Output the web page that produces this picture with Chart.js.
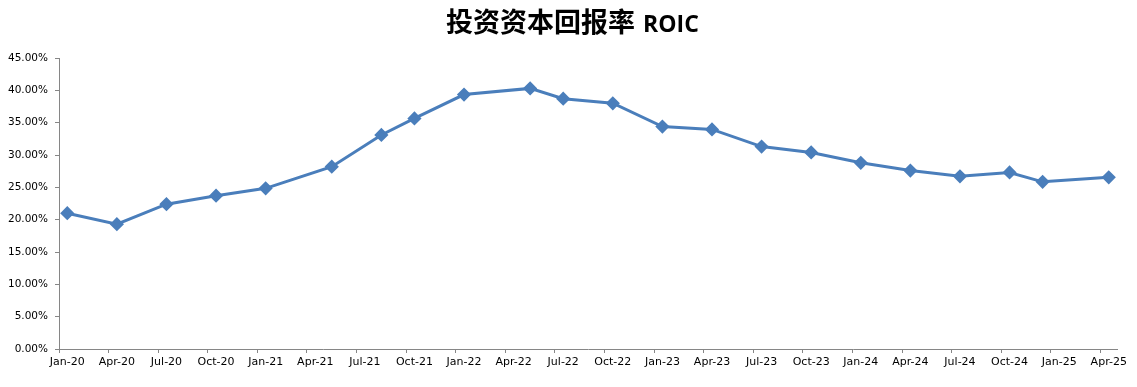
<!DOCTYPE html>
<html>
<head>
<meta charset="utf-8">
<script src="https://cdn.jsdelivr.net/npm/chart.js@4"></script>
<style>
    html, body { margin: 0; padding: 0; background: #fff; }
    #wrap { position: relative; width: 1137px; height: 387px; }
    #title {
        position: absolute; left: 0; top: 5px; width: 1137px; padding-left: 8px; box-sizing: border-box;
        text-align: center; color: #000; line-height: 32px; white-space: nowrap;
    }
    #title .cn { font-family: 'Noto Sans CJK SC'; font-size: 27px; font-weight: bold; }
    #title .en { font-family: 'Open Sans', 'Noto Sans'; font-size: 23px; font-weight: bold; margin-left: 4px; }
</style>
</head>
<body>
<div id="wrap">
    <div id="title"><span class="cn">投资资本回报率</span> <span class="en">ROIC</span></div>
    <canvas id="roicChart"></canvas>
</div>
<script>
// months counted from Jan-20 (0 = Jan-20)
const monthIndex = [0, 3, 6, 9, 12, 16, 19, 21, 24, 28, 30, 33, 36, 39, 42, 45, 48, 51, 54, 57, 59, 63];
const roicValues = [21.0, 19.3, 22.4, 23.7, 24.85, 28.2, 33.1, 35.65, 39.35, 40.3, 38.7, 38.0,
                    34.4, 33.95, 31.3, 30.4, 28.8, 27.6, 26.7, 27.3, 25.85, 26.55];
const tickLabels = ['Jan-20', 'Apr-20', 'Jul-20', 'Oct-20', 'Jan-21', 'Apr-21', 'Jul-21', 'Oct-21',
                    'Jan-22', 'Apr-22', 'Jul-22', 'Oct-22', 'Jan-23', 'Apr-23', 'Jul-23', 'Oct-23',
                    'Jan-24', 'Apr-24', 'Jul-24', 'Oct-24', 'Jan-25', 'Apr-25'];
const totalMonths = 64;

function createRoicChart() {
    const ctx = document.getElementById('roicChart').getContext('2d');
    const points = monthIndex.map((m, i) => ({ x: m + 0.5, y: roicValues[i] }));

    new Chart(ctx, {
        type: 'line',
        data: {
            datasets: [{
                label: 'ROIC',
                data: points,
                borderColor: '#4a7ebb',
                backgroundColor: '#4a7ebb',
                borderWidth: 3,
                pointStyle: 'rectRot',
                pointRadius: 5,
                pointHoverRadius: 5,
                tension: 0
            }]
        },
        options: {
            responsive: true,
            maintainAspectRatio: false,
            animation: false,
            layout: { padding: { left: 0, right: 20, top: 58, bottom: 0 } },
            plugins: {
                legend: { display: false },
                tooltip: { enabled: false },
                title: { display: false }
            },
            scales: {
                x: {
                    type: 'linear',
                    min: 0,
                    max: totalMonths,
                    afterBuildTicks: scale => {
                        scale.ticks = tickLabels.map((t, i) => ({ value: i * 3 }));
                    },
                    afterFit: scale => { scale.height = 38; },
                    ticks: {
                        autoSkip: false,
                        maxRotation: 0,
                        labelOffset: 8.3,
                        padding: 3,
                        color: '#000',
                        font: { family: "'DejaVu Sans'", size: 11 },
                        callback: (v, i) => tickLabels[i]
                    },
                    grid: { drawOnChartArea: false, drawTicks: true, tickLength: 4, color: '#868686' },
                    border: { color: '#868686', width: 1 }
                },
                y: {
                    min: 0,
                    max: 45,
                    afterFit: scale => { scale.width = 59; },
                    ticks: {
                        stepSize: 5,
                        padding: 7,
                        color: '#000',
                        font: { family: "'DejaVu Sans'", size: 10.5 },
                        callback: v => v.toFixed(2) + '%'
                    },
                    grid: { drawOnChartArea: false, drawTicks: true, tickLength: 4, color: '#868686' },
                    border: { color: '#868686', width: 1 }
                }
            }
        }
    });
}

document.addEventListener('DOMContentLoaded', createRoicChart);
</script>
</body>
</html>
